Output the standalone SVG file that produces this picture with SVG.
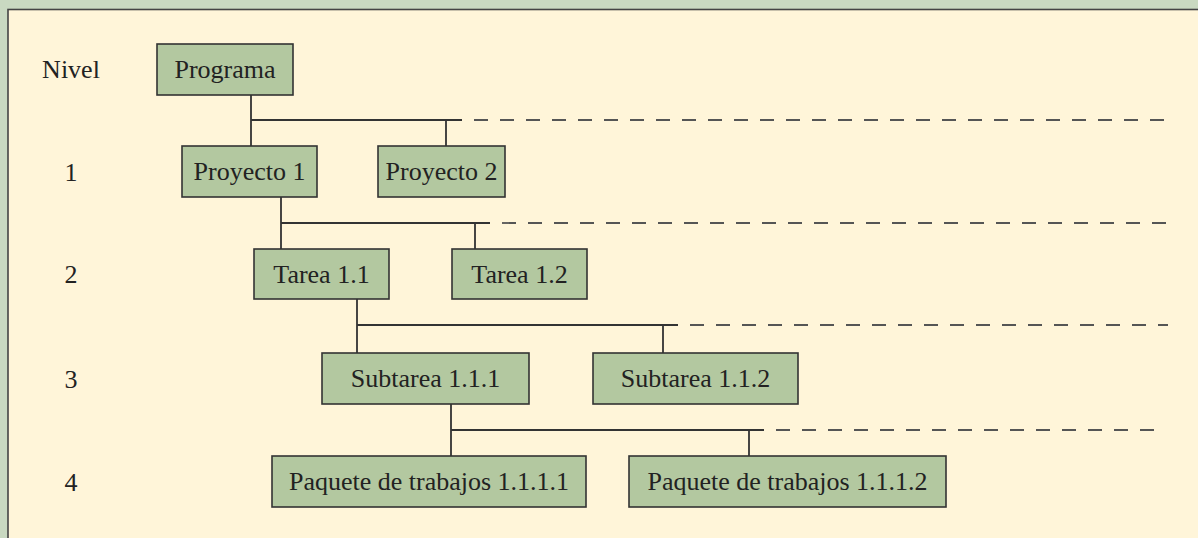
<svg xmlns="http://www.w3.org/2000/svg" width="1198" height="538" viewBox="0 0 1198 538">
<style>
.box{fill:#b3c8a0;stroke:#333;stroke-width:1.6}
.t{font-family:"Liberation Serif","Times New Roman",serif;font-size:26px;fill:#222;text-anchor:middle}
.lv{font-family:"Liberation Serif","Times New Roman",serif;font-size:26px;fill:#222;text-anchor:middle}
.ln{stroke:#333;stroke-width:1.8;fill:none}
.dl{stroke:#555;stroke-width:1.8;fill:none;stroke-dasharray:14 12}
</style>
<rect x="0" y="0" width="1198" height="538" fill="#c9d9c1"/>
<rect x="8" y="9.5" width="1200" height="540" fill="#fff5d9" stroke="#444" stroke-width="1.6"/>
<g id="levels">
<text class="lv" x="71" y="78">Nivel</text>
<text class="lv" x="71" y="181">1</text>
<text class="lv" x="71" y="283">2</text>
<text class="lv" x="71" y="388">3</text>
<text class="lv" x="71" y="491">4</text>
</g>
<g id="connectors">
<path class="ln" d="M251 95V146M251 120H462M446 120V146"/>
<path class="dl" d="M474 120H1172"/>
<path class="ln" d="M281 197V249M281 223H490M475 223V249"/>
<path class="dl" d="M502 223H1170"/>
<path class="ln" d="M357 299V353M357 325H678M663 325V353"/>
<path class="dl" d="M690 325H1168"/>
<path class="ln" d="M451 404V456M451 430H764M749 430V456"/>
<path class="dl" d="M776 430H1162"/>
</g>
<g id="programa"><rect class="box" x="157" y="44" width="136" height="51"/><text class="t" x="225" y="78">Programa</text></g>
<g id="proyecto1"><rect class="box" x="182" y="146" width="135" height="51"/><text class="t" x="249.5" y="180">Proyecto 1</text></g>
<g id="proyecto2"><rect class="box" x="378" y="146" width="127" height="51"/><text class="t" x="441.5" y="180">Proyecto 2</text></g>
<g id="tarea11"><rect class="box" x="254" y="249" width="135" height="50"/><text class="t" x="321.5" y="283">Tarea 1.1</text></g>
<g id="tarea12"><rect class="box" x="452" y="249" width="135" height="50"/><text class="t" x="519.5" y="283">Tarea 1.2</text></g>
<g id="subtarea111"><rect class="box" x="322" y="353" width="207" height="51"/><text class="t" x="425.5" y="387">Subtarea 1.1.1</text></g>
<g id="subtarea112"><rect class="box" x="593" y="353" width="205" height="51"/><text class="t" x="695.5" y="387">Subtarea 1.1.2</text></g>
<g id="paquete1"><rect class="box" x="272" y="456" width="314" height="51"/><text class="t" x="429" y="490">Paquete de trabajos 1.1.1.1</text></g>
<g id="paquete2"><rect class="box" x="629" y="456" width="317" height="51"/><text class="t" x="787.5" y="490">Paquete de trabajos 1.1.1.2</text></g>
</svg>
